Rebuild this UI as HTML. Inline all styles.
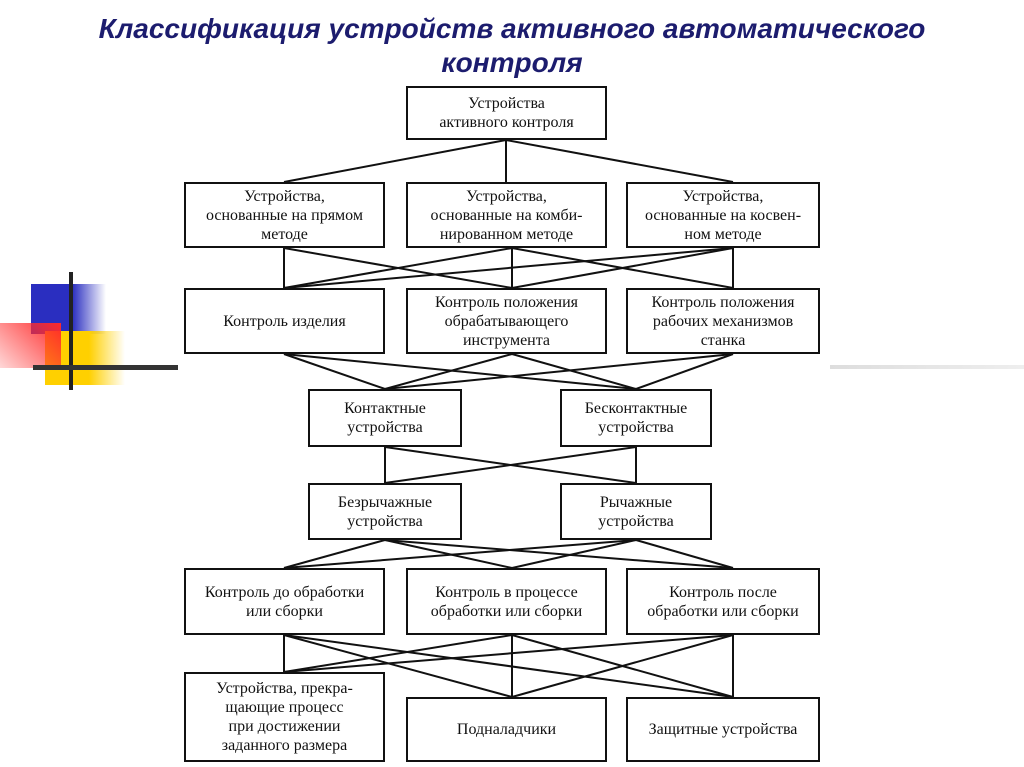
<!DOCTYPE html>
<html><head><meta charset="utf-8"><style>
body{margin:0;width:1024px;height:767px;background:#fff;position:relative;overflow:hidden;font-family:"Liberation Serif",serif}
.t{position:absolute;left:0;width:1024px;text-align:center;color:#1c1c6e;font:italic bold 28px "Liberation Sans",sans-serif;line-height:34px;top:12px}
.b{position:absolute;border:2px solid #111;box-sizing:border-box;display:flex;align-items:center;justify-content:center;text-align:center;font-size:16px;line-height:19px;color:#111;background:#fff}
</style></head><body>
<div class="t">Классификация устройств активного автоматического<br>контроля</div>
<div style="position:absolute;left:31px;top:284px;width:75px;height:50px;background:linear-gradient(90deg,#2a2ec0 55%,rgba(42,46,192,0))"></div>
<div style="position:absolute;left:45px;top:331px;width:80px;height:54px;background:linear-gradient(90deg,#ffd000 55%,rgba(255,208,0,0))"></div>
<div style="position:absolute;left:0;top:323px;width:61px;height:45px;background:linear-gradient(45deg,rgba(255,60,60,0.2),#ff2a2a)"></div>
<div style="position:absolute;left:69px;top:272px;width:4px;height:118px;background:#222"></div>
<div style="position:absolute;left:33px;top:365px;width:145px;height:5px;background:#333"></div>
<div style="position:absolute;left:830px;top:365px;width:194px;height:4px;background:linear-gradient(90deg,#ddd,#eee)"></div>
<svg style="position:absolute;left:0;top:0" width="1024" height="767" stroke="#111" stroke-width="2">
<line x1="506" y1="140" x2="284" y2="182"/><line x1="506" y1="140" x2="733" y2="182"/><line x1="506" y1="140" x2="506" y2="182"/>
<line x1="284" y1="248" x2="284" y2="288"/><line x1="512" y1="248" x2="512" y2="288"/><line x1="733" y1="248" x2="733" y2="288"/>
<line x1="512" y1="248" x2="284" y2="288"/><line x1="512" y1="248" x2="733" y2="288"/><line x1="733" y1="248" x2="284" y2="288"/><line x1="733" y1="248" x2="512" y2="288"/><line x1="284" y1="248" x2="512" y2="288"/>
<line x1="284" y1="354" x2="385" y2="389"/><line x1="512" y1="354" x2="385" y2="389"/><line x1="733" y1="354" x2="385" y2="389"/>
<line x1="284" y1="354" x2="636" y2="389"/><line x1="512" y1="354" x2="636" y2="389"/><line x1="733" y1="354" x2="636" y2="389"/>
<line x1="385" y1="447" x2="385" y2="483"/><line x1="636" y1="447" x2="636" y2="483"/><line x1="385" y1="447" x2="636" y2="483"/><line x1="636" y1="447" x2="385" y2="483"/>
<line x1="385" y1="540" x2="284" y2="568"/><line x1="385" y1="540" x2="512" y2="568"/><line x1="385" y1="540" x2="733" y2="568"/>
<line x1="636" y1="540" x2="284" y2="568"/><line x1="636" y1="540" x2="512" y2="568"/><line x1="636" y1="540" x2="733" y2="568"/>
<line x1="284" y1="635" x2="284" y2="672"/><line x1="284" y1="635" x2="512" y2="697"/><line x1="284" y1="635" x2="733" y2="697"/>
<line x1="512" y1="635" x2="284" y2="672"/><line x1="512" y1="635" x2="512" y2="697"/><line x1="512" y1="635" x2="733" y2="697"/>
<line x1="733" y1="635" x2="284" y2="672"/><line x1="733" y1="635" x2="512" y2="697"/><line x1="733" y1="635" x2="733" y2="697"/>
</svg>
<div class="b" style="left:406px;top:86px;width:201px;height:54px">Устройства<br>активного контроля</div>
<div class="b" style="left:184px;top:182px;width:201px;height:66px">Устройства,<br>основанные на прямом<br>методе</div>
<div class="b" style="left:406px;top:182px;width:201px;height:66px">Устройства,<br>основанные на комби-<br>нированном методе</div>
<div class="b" style="left:626px;top:182px;width:194px;height:66px">Устройства,<br>основанные на косвен-<br>ном методе</div>
<div class="b" style="left:184px;top:288px;width:201px;height:66px">Контроль изделия</div>
<div class="b" style="left:406px;top:288px;width:201px;height:66px">Контроль положения<br>обрабатывающего<br>инструмента</div>
<div class="b" style="left:626px;top:288px;width:194px;height:66px">Контроль положения<br>рабочих механизмов<br>станка</div>
<div class="b" style="left:308px;top:389px;width:154px;height:58px">Контактные<br>устройства</div>
<div class="b" style="left:560px;top:389px;width:152px;height:58px">Бесконтактные<br>устройства</div>
<div class="b" style="left:308px;top:483px;width:154px;height:57px">Безрычажные<br>устройства</div>
<div class="b" style="left:560px;top:483px;width:152px;height:57px">Рычажные<br>устройства</div>
<div class="b" style="left:184px;top:568px;width:201px;height:67px">Контроль до обработки<br>или сборки</div>
<div class="b" style="left:406px;top:568px;width:201px;height:67px">Контроль в процессе<br>обработки или сборки</div>
<div class="b" style="left:626px;top:568px;width:194px;height:67px">Контроль после<br>обработки или сборки</div>
<div class="b" style="left:184px;top:672px;width:201px;height:90px">Устройства, прекра-<br>щающие процесс<br>при достижении<br>заданного размера</div>
<div class="b" style="left:406px;top:697px;width:201px;height:65px">Подналадчики</div>
<div class="b" style="left:626px;top:697px;width:194px;height:65px">Защитные устройства</div>
</body></html>
